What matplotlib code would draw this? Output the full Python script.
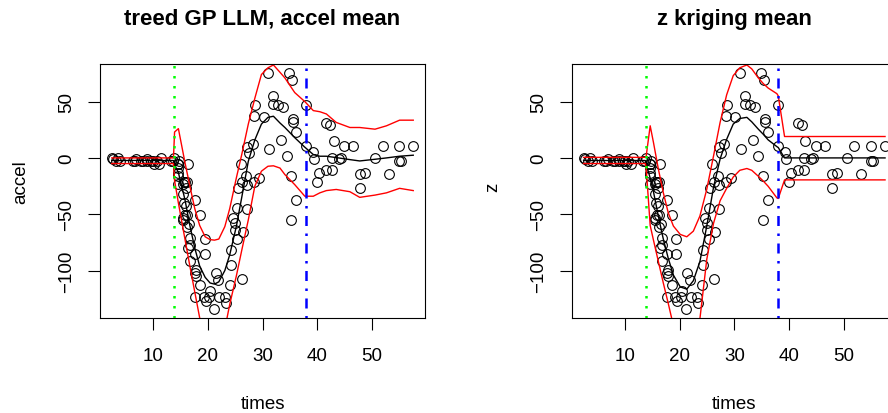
import matplotlib
matplotlib.use("Agg")
import matplotlib.pyplot as plt

plt.rcParams['font.family'] = ['Liberation Sans', 'DejaVu Sans']

# mcycle data
times = [2.4, 2.6, 3.2, 3.6, 4.0, 6.2, 6.6, 6.8, 7.8, 8.2, 8.8, 8.8, 9.6, 10.0, 10.2, 10.6,
         11.0, 11.4, 13.2, 13.6, 13.8, 14.6, 14.6, 14.6, 14.6, 14.6, 14.6, 14.8, 15.4, 15.4,
         15.4, 15.4, 15.6, 15.6, 15.8, 15.8, 16.0, 16.0, 16.2, 16.2, 16.2, 16.4, 16.4, 16.6,
         16.8, 16.8, 16.8, 17.6, 17.6, 17.6, 17.6, 17.8, 17.8, 18.6, 18.6, 19.2, 19.4, 19.4,
         19.6, 20.2, 20.4, 21.2, 21.4, 21.8, 22.0, 23.2, 23.4, 24.0, 24.2, 24.2, 24.6, 25.0,
         25.0, 25.4, 25.4, 25.6, 26.0, 26.2, 26.2, 26.4, 27.0, 27.2, 27.2, 27.2, 27.6, 28.2,
         28.4, 28.4, 28.6, 29.4, 30.2, 31.0, 31.2, 32.0, 32.0, 32.8, 33.4, 33.8, 34.4, 34.8,
         35.2, 35.2, 35.4, 35.6, 35.6, 36.2, 36.2, 38.0, 38.0, 39.2, 39.4, 40.0, 40.4, 41.6,
         41.6, 42.4, 42.8, 42.8, 43.0, 44.0, 44.4, 45.0, 46.6, 47.8, 47.8, 48.8, 50.6, 52.0,
         53.2, 55.0, 55.0, 55.4, 57.6]
accel = [0.0, -1.3, -2.7, 0.0, -2.7, -2.7, -2.7, -1.3, -2.7, -2.7, -1.3, -2.7, -2.7, -2.7,
         -5.4, -2.7, -5.4, 0.0, -2.7, -2.7, 0.0, -13.3, -5.4, -5.4, -9.3, -16.0, -22.8, -2.7,
         -22.8, -32.1, -53.5, -54.9, -40.2, -21.5, -21.5, -50.8, -42.9, -26.8, -21.5, -50.8,
         -61.7, -5.4, -80.4, -59.0, -71.0, -91.1, -77.7, -37.5, -85.6, -123.1, -101.9, -99.1,
         -104.4, -112.5, -50.8, -123.1, -85.6, -72.3, -127.2, -123.1, -117.9, -134.0, -101.9,
         -108.4, -123.1, -123.1, -128.5, -112.5, -95.1, -81.8, -53.5, -64.4, -57.6, -72.3,
         -44.3, -26.8, -5.4, -107.1, -21.5, -65.6, -16.0, -45.6, -24.2, 9.5, 4.0, 12.0, -21.5,
         37.5, 46.9, -17.4, 36.2, 75.0, 8.1, 54.9, 48.2, 46.9, 16.0, 45.6, 1.3, 75.0, -16.0,
         -54.9, 69.6, 34.8, 32.1, -37.5, 22.8, 46.9, 10.7, 5.4, -1.3, -21.5, -13.3, 30.8,
         -10.7, 29.4, 0.0, -10.7, 14.7, -1.3, 0.0, 10.7, 10.7, -26.8, -14.7, -13.3, 0.0, 10.7,
         -14.7, -2.7, 10.7, -2.7, 10.7]

# treed GP LLM predictive summary
t_llm = [2.4, 5, 8, 11, 13.7, 13.9, 14.6, 15.8, 16.7, 17.6, 18.5, 19.5, 20.4, 21.2, 22.0,
         23.1, 24.0, 25.2, 26.2, 27.4, 28.6, 29.8, 31.0, 32.0, 33.2, 34.1, 35.9, 37.75,
         39.3, 40.5, 41.7, 43.5, 46.0, 47.8, 50.6, 52.7, 55.1, 57.6]
mean_llm = [-2.3, -2.3, -2.2, -2.3, -2.3, -6, -13, -37, -60, -80, -96, -106, -111, -112,
            -110, -100, -86, -61, -35, -3, 16, 30, 36, 37, 31, 27, 18, 9.5, 3, 1.5, 1.5,
            0.3, -1.5, -2.7, -1.2, 0, 1.5, 2.4]
q95_llm = [0, 0, 0, 0, 0, 23, 26, -4, -25, -45, -60, -70, -72.5, -73, -72, -61, -45, -18,
           3, 30, 53, 74, 80, 82.5, 76, 71, 58, 50, 42, 41, 39, 31.5, 27, 27, 25.5, 28.5,
           33.5, 33.5]
q05_llm = [-5, -5, -5, -5, -5, -20, -40, -72, -96, -119, -142, -160, -170, -172, -168,
           -152, -130, -105, -82, -55, -25, -11.8, -7.4, -7, -9, -14.8, -23.7, -34, -34,
           -31, -29, -28, -30, -35, -33, -31, -27, -29]

# z kriging mean summary
t_gp = [2.4, 5, 8, 11, 13.7, 13.85, 14.6, 15.2, 16.1, 17.0, 17.9, 18.85, 20.1, 21.3, 22.5,
        23.7, 24.96, 26.2, 27.4, 28.6, 29.8, 31.0, 32.3, 33.2, 34.4, 35.3, 36.2, 37.8,
        38.05, 39.2, 45, 50, 57.6]
mean_gp = [-2.3, -2.3, -2.3, -2.3, -2.3, -5, -18, -30, -52, -72, -89, -104, -114.5, -116.5,
           -109, -92, -60.5, -26, -1, 16.5, 30, 35, 36, 32, 25.5, 21, 16, 10, 9.2, 0, 0,
           0, 0]
q95_gp = [0.5, 0.5, 0.5, 0.5, 0.5, 1, 28.5, 13.7, -10, -30.8, -48.6, -60.5, -67.9, -70,
          -65, -51.6, -27.8, 1.8, 31.5, 56, 73, 80, 82.5, 79, 71, 66, 62, 57, 55, 19, 19,
          19, 19]
q05_gp = [-5, -5, -5, -5, -5, -8, -60, -73, -92, -111, -129, -149, -168, -175, -168, -143,
          -90, -58, -38, -27, -17, -11, -9.4, -11, -16.3, -20.5, -25.2, -35.5, -36, -19.5,
          -19.5, -19.5, -19.5]

splits = [13.8, 38.0]

W, H = 888, 414
fig = plt.figure(figsize=(W / 100, H / 100), dpi=100)

panels = [
    (99.7, "treed GP LLM, accel mean", "accel", 182, t_llm, mean_llm, q05_llm, q95_llm),
    (571.5, "z kriging mean", "z", 187, t_gp, mean_gp, q05_gp, q95_gp),
]

for left, title, ylab, ylab_y, tt, mm, lo, hi in panels:
    ax = fig.add_axes([left / W, (H - 319.3) / H, 325.6 / W, 254.3 / H])
    ax.plot(times, accel, 'o', mfc='none', mec='black', ms=7, mew=0.8)
    ax.plot(tt, mm, color='black', lw=1.0)
    ax.plot(tt, lo, color='red', lw=1.0)
    ax.plot(tt, hi, color='red', lw=1.0)
    ax.axvline(splits[0], color='#00FF00', lw=1.8, linestyle=(0, (1, 3)))
    ax.axvline(splits[1], color='#0000FF', lw=1.8, linestyle=(0, (1, 3, 4, 3)))

    ax.set_xlim(0.192, 59.808)
    ax.set_ylim(-142.36, 83.36)
    ax.set_xticks([10, 20, 30, 40, 50])
    ax.set_yticks([-100, -50, 0, 50])
    for s in ax.spines.values():
        s.set_linewidth(0.8)
    ax.tick_params(axis='both', direction='out', length=8.5, width=0.8, labelsize=13.5)
    ax.tick_params(axis='x', pad=12)
    ax.tick_params(axis='y', pad=9)
    for lab in ax.get_yticklabels():
        lab.set_rotation(90)
        lab.set_va('center')

    cx = left + 325.6 / 2
    fig.text(cx / W, (H - 25) / H, title, ha='center', va='baseline',
             fontsize=16, fontweight='bold')
    fig.text(cx / W, (H - 409) / H, "times", ha='center', va='baseline', fontsize=13.5)
    fig.text((left - 74.7) / W, (H - ylab_y) / H, ylab, rotation=90, rotation_mode='anchor',
             ha='center', va='baseline', fontsize=13.5)

fig.savefig('out.png', dpi=100)
